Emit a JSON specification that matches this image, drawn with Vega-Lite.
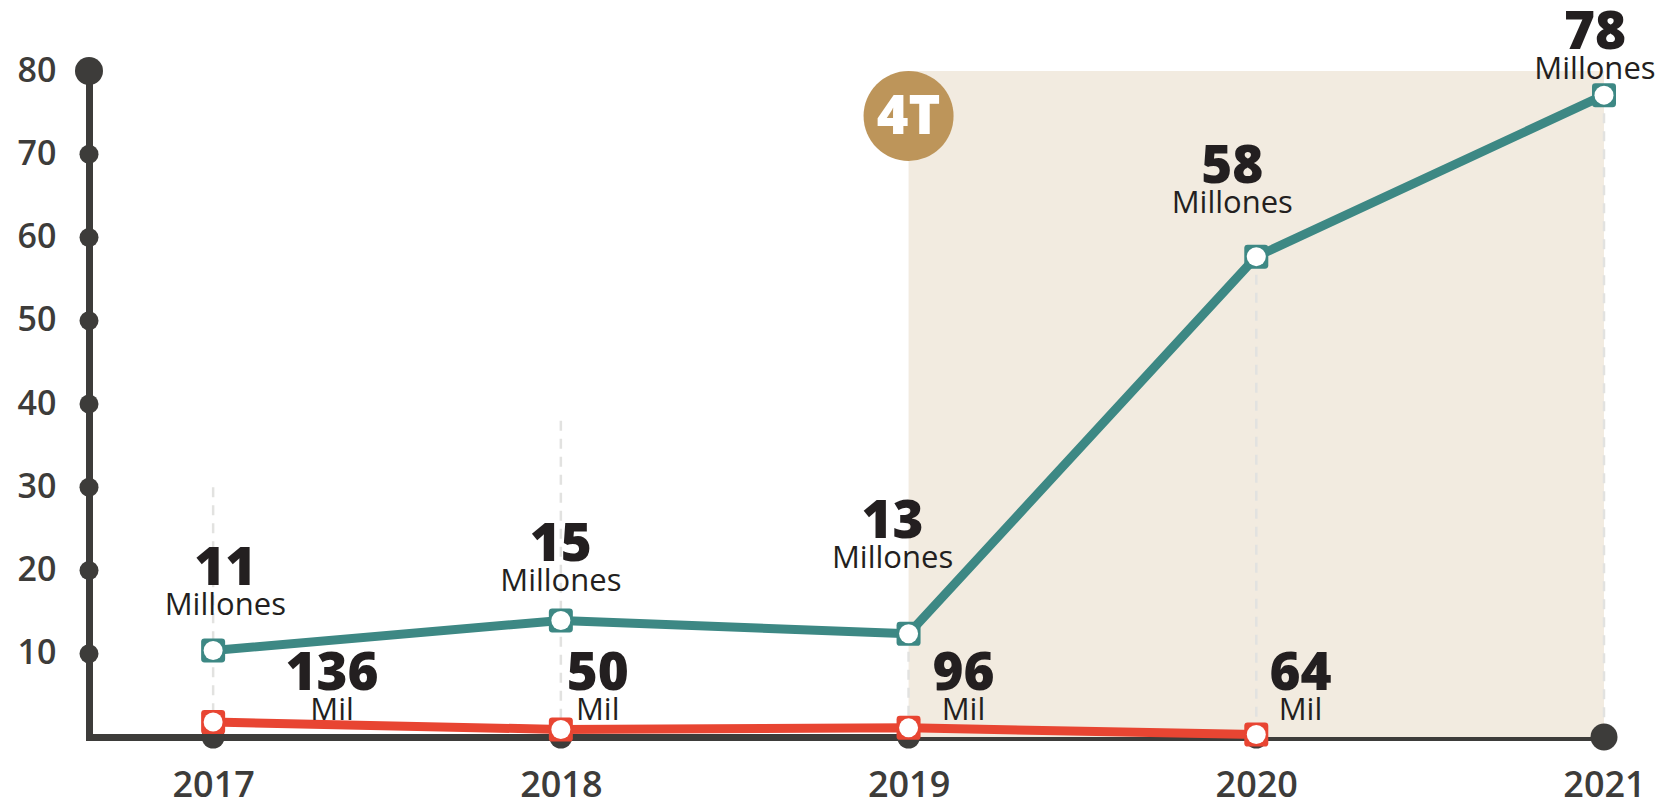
{
  "$schema": "https://vega.github.io/schema/vega-lite/v6.json",
  "width": 1515,
  "height": 666,
  "autosize": {"type": "none"},
  "padding": {"left": 89, "top": 71, "right": 61, "bottom": 63},
  "background": "#ffffff",
  "config": {"view": {"stroke": null}, "font": "Open Sans"},
  "datasets": {
    "series": [
      {"year": 2017, "serie": "Millones", "value": 10.4, "num": "11", "unit": "Millones", "labelYear": 2017.035, "labelValue": 18.2},
      {"year": 2018, "serie": "Millones", "value": 14.0, "num": "15", "unit": "Millones", "labelYear": 2018.0, "labelValue": 21.2},
      {"year": 2019, "serie": "Millones", "value": 12.4, "num": "13", "unit": "Millones", "labelYear": 2018.954, "labelValue": 23.9},
      {"year": 2020, "serie": "Millones", "value": 57.7, "num": "58", "unit": "Millones", "labelYear": 2019.931, "labelValue": 66.5},
      {"year": 2021, "serie": "Millones", "value": 77.1, "num": "78", "unit": "Millones", "labelYear": 2020.974, "labelValue": 82.7},
      {"year": 2017, "serie": "Mil", "value": 1.8, "num": "136", "unit": "Mil", "labelYear": 2017.342, "labelValue": 5.6},
      {"year": 2018, "serie": "Mil", "value": 0.9, "num": "50", "unit": "Mil", "labelYear": 2018.106, "labelValue": 5.6},
      {"year": 2019, "serie": "Mil", "value": 1.1, "num": "96", "unit": "Mil", "labelYear": 2019.158, "labelValue": 5.6},
      {"year": 2020, "serie": "Mil", "value": 0.3, "num": "64", "unit": "Mil", "labelYear": 2020.127, "labelValue": 5.6}
    ],
    "period": [{"start": 2019, "end": 2021, "top": 80, "tag": "4T"}],
    "rules": [
      {"year": 2017, "top": 30},
      {"year": 2018, "top": 38},
      {"year": 2019, "top": 12.4},
      {"year": 2020, "top": 57.7},
      {"year": 2021, "top": 77.1}
    ],
    "yticks": [{"v": 10}, {"v": 20}, {"v": 30}, {"v": 40}, {"v": 50}, {"v": 60}, {"v": 70}, {"v": 80}],
    "xticks": [{"year": 2017}, {"year": 2018}, {"year": 2019}, {"year": 2020}, {"year": 2021}]
  },
  "layer": [
    {
      "data": {"name": "period"},
      "mark": {"type": "rect", "color": "#f2ebe0"},
      "encoding": {
        "x": {"field": "start", "type": "quantitative", "title": null,
              "scale": {"domain": [2016.643, 2021], "nice": false, "zero": false},
              "axis": {"values": [2017, 2018, 2019, 2020, 2021], "format": "d", "ticks": false, "grid": false,
                       "domainColor": "#3d3c3a", "domainWidth": 7, "domainCap": "square",
                       "labelFontSize": 36, "labelFontWeight": 600, "labelColor": "#3d3c3a",
                       "labelPadding": 31, "labelFlush": false, "labelOverlap": false}},
        "x2": {"field": "end"},
        "y": {"field": "top", "type": "quantitative", "title": null,
              "scale": {"domain": [0, 80], "nice": false, "zero": false},
              "axis": {"values": [10, 20, 30, 40, 50, 60, 70, 80], "ticks": false, "grid": false,
                       "domainColor": "#3d3c3a", "domainWidth": 7, "domainCap": "square",
                       "labelFontSize": 34, "labelFontWeight": 600, "labelColor": "#3d3c3a",
                       "labelPadding": 33, "labelFlush": false, "labelOverlap": false}},
        "y2": {"datum": 0},
        "y2Offset": {"value": -4}
      }
    },
    {
      "data": {"name": "rules"},
      "mark": {"type": "rule", "color": "#e2e2e0", "strokeWidth": 2.5, "strokeDash": [10, 8]},
      "encoding": {
        "x": {"field": "year", "type": "quantitative", "title": null, "scale": {"domain": [2016.643, 2021], "nice": false, "zero": false}},
        "y": {"field": "top", "type": "quantitative", "title": null, "scale": {"domain": [0, 80], "nice": false, "zero": false}},
        "y2": {"datum": 0},
        "y2Offset": {"value": -4}
      }
    },
    {
      "data": {"name": "yticks"},
      "mark": {"type": "point", "filled": true, "opacity": 1, "color": "#3d3c3a"},
      "encoding": {
        "x": {"datum": 2016.643, "type": "quantitative", "scale": {"domain": [2016.643, 2021], "nice": false, "zero": false}},
        "y": {"field": "v", "type": "quantitative", "title": null, "scale": {"domain": [0, 80], "nice": false, "zero": false}},
        "size": {"condition": {"test": "datum.v == 80", "value": 784}, "value": 361}
      }
    },
    {
      "data": {"name": "xticks"},
      "mark": {"type": "point", "filled": true, "opacity": 1, "color": "#3d3c3a"},
      "encoding": {
        "x": {"field": "year", "type": "quantitative", "title": null, "scale": {"domain": [2016.643, 2021], "nice": false, "zero": false}},
        "y": {"datum": 0, "type": "quantitative", "scale": {"domain": [0, 80], "nice": false, "zero": false}},
        "size": {"condition": {"test": "datum.year == 2021", "value": 729}, "value": 529}
      }
    },
    {
      "data": {"name": "period"},
      "mark": {"type": "point", "filled": true, "opacity": 1, "color": "#bd955a", "shape": "circle"},
      "encoding": {
        "x": {"field": "start", "type": "quantitative", "title": null, "scale": {"domain": [2016.643, 2021], "nice": false, "zero": false}},
        "y": {"field": "top", "type": "quantitative", "title": null, "scale": {"domain": [0, 80], "nice": false, "zero": false}},
        "yOffset": {"value": 45},
        "size": {"value": 8100}
      }
    },
    {
      "data": {"name": "period"},
      "mark": {"type": "text", "color": "#ffffff", "fontSize": 54, "fontWeight": 900, "align": "center", "baseline": "middle", "dy": 47},
      "encoding": {
        "x": {"field": "start", "type": "quantitative", "title": null, "scale": {"domain": [2016.643, 2021], "nice": false, "zero": false}},
        "y": {"field": "top", "type": "quantitative", "title": null, "scale": {"domain": [0, 80], "nice": false, "zero": false}},
        "text": {"field": "tag"}
      }
    },
    {
      "data": {"name": "series"},
      "mark": {"type": "line", "strokeWidth": 9, "strokeJoin": "round"},
      "encoding": {
        "x": {"field": "year", "type": "quantitative", "title": null, "scale": {"domain": [2016.643, 2021], "nice": false, "zero": false}},
        "y": {"field": "value", "type": "quantitative", "title": null, "scale": {"domain": [0, 80], "nice": false, "zero": false}},
        "color": {"field": "serie", "type": "nominal", "legend": null,
                  "scale": {"domain": ["Millones", "Mil"], "range": ["#3d8884", "#e84532"]}}
      }
    },
    {
      "data": {"name": "series"},
      "mark": {"type": "point", "filled": true, "opacity": 1,
               "shape": "M-0.72,-1L0.72,-1Q1,-1,1,-0.72L1,0.72Q1,1,0.72,1L-0.72,1Q-1,1,-1,0.72L-1,-0.72Q-1,-1,-0.72,-1Z"},
      "encoding": {
        "x": {"field": "year", "type": "quantitative", "title": null, "scale": {"domain": [2016.643, 2021], "nice": false, "zero": false}},
        "y": {"field": "value", "type": "quantitative", "title": null, "scale": {"domain": [0, 80], "nice": false, "zero": false}},
        "color": {"field": "serie", "type": "nominal", "legend": null},
        "size": {"value": 576}
      }
    },
    {
      "data": {"name": "series"},
      "mark": {"type": "point", "filled": true, "opacity": 1, "shape": "circle", "color": "#ffffff"},
      "encoding": {
        "x": {"field": "year", "type": "quantitative", "title": null, "scale": {"domain": [2016.643, 2021], "nice": false, "zero": false}},
        "y": {"field": "value", "type": "quantitative", "title": null, "scale": {"domain": [0, 80], "nice": false, "zero": false}},
        "size": {"value": 361}
      }
    },
    {
      "data": {"name": "series"},
      "mark": {"type": "text", "color": "#231f20", "fontSize": 53, "fontWeight": 800, "align": "center", "baseline": "alphabetic"},
      "encoding": {
        "x": {"field": "labelYear", "type": "quantitative", "title": null, "scale": {"domain": [2016.643, 2021], "nice": false, "zero": false}},
        "y": {"field": "labelValue", "type": "quantitative", "title": null, "scale": {"domain": [0, 80], "nice": false, "zero": false}},
        "text": {"field": "num"}
      }
    },
    {
      "data": {"name": "series"},
      "mark": {"type": "text", "color": "#231f20", "fontSize": 31, "fontWeight": 500, "align": "center", "baseline": "alphabetic", "dy": 30},
      "encoding": {
        "x": {"field": "labelYear", "type": "quantitative", "title": null, "scale": {"domain": [2016.643, 2021], "nice": false, "zero": false}},
        "y": {"field": "labelValue", "type": "quantitative", "title": null, "scale": {"domain": [0, 80], "nice": false, "zero": false}},
        "text": {"field": "unit"}
      }
    }
  ]
}
